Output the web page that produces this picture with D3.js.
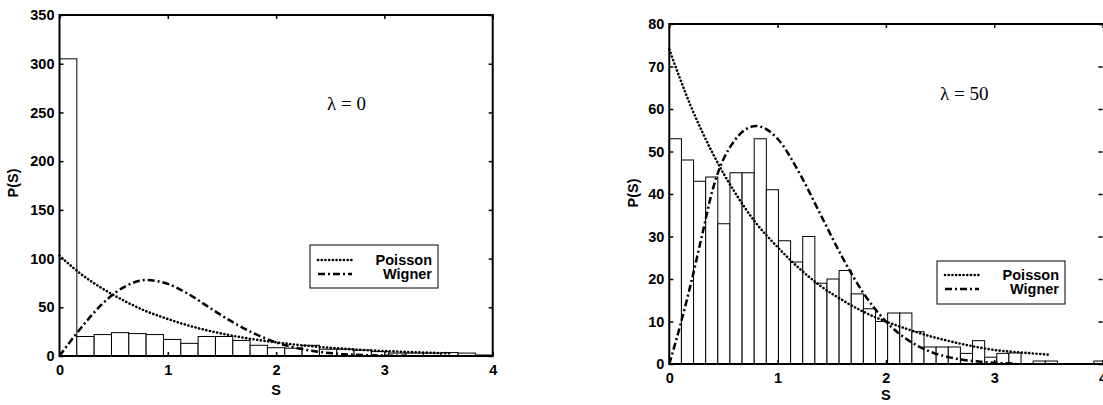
<!DOCTYPE html>
<html><head><meta charset="utf-8">
<script src="https://cdn.jsdelivr.net/npm/d3@7"></script>
<style>body{margin:0;background:#fff} svg{display:block}</style>
</head><body>
<svg id="c" width="1103" height="405"></svg>
<script>
// ---------- data ----------
const xTicks = [0, 1, 2, 3, 4];
const leftYTicks = [0, 50, 100, 150, 200, 250, 300, 350];
const rightYTicks = [0, 10, 20, 30, 40, 50, 60, 70, 80];
const seriesNames = ["Poisson", "Wigner"];
const leftTitle = "λ = 0";
const rightTitle = "λ = 50";

const leftBinWidth = 0.16;
const leftCounts = [305, 20, 22, 24, 23, 22, 17, 13, 20, 20, 16, 11, 8.5, 8, 11, 7, 7, 6, 4.5, 3, 3, 3, 3.5, 3, 1];

const rightBinWidth = 0.112;
const rightCounts = [53, 48, 43, 44, 33, 45, 45, 53, 41, 29, 24, 30, 19, 20, 22, 16.5, 13, 10, 12, 12,
                     7.6, 4, 4, 4, 2.5, 5.5, 1.6, 2.5, 2.6, 0, 0.7, 0.7, 0, 0, 0, 0.7];

const leftPoissonS = [0,0.2,0.4,0.6,0.8,1.0,1.2,1.4,1.6,1.8,2.0,2.2,2.4,2.6,2.8,3.0,3.2,3.4,3.6];
const leftPoissonP = [103,84,69,56.5,46,38,31,25.4,20.8,17,14,11.4,9.3,7.6,6.2,5.1,4.2,3.4,2.8];
const leftWignerS = [0,0.2,0.4,0.6,0.8,1.0,1.2,1.4,1.6,1.8,2.0,2.2,2.4,2.6,2.8,3.0,3.2];
const leftWignerP = [0,29,54,71,78,74,63,48.5,34.7,23,14,8,4.2,2.1,0.9,0.4,0.2];

const rightPoissonS = [0,0.2,0.4,0.6,0.8,1.0,1.2,1.4,1.6,1.8,2.0,2.2,2.4,2.6,2.8,3.0,3.2,3.4,3.5];
const rightPoissonP = [74,60.6,49.6,40.6,33.2,27.5,22.5,18.3,15,12.2,10,8.2,6.6,5.3,4.2,3.3,2.8,2.4,2.2];
const rightWignerS = [0,0.1,0.2,0.3,0.4,0.6,0.8,1.0,1.2,1.4,1.6,1.8,2.0,2.2,2.4,2.6,2.8,3.0,3.2];
const rightWignerP = [0,9,19,30,41,52.5,56,53,45,35,25,16.4,10,5.7,3,1.5,0.7,0.3,0.1];

// ---------- drawing ----------
const svg = d3.select("#c");
const tickFont = "bold 14.5px 'Liberation Sans', Arial, sans-serif";
const DOT = "0.1,3.6";
const DASHDOT = "7,3,2,3";

function drawPanel(p) {
  const g = svg.append("g");
  const x = d3.scaleLinear().domain([0, 4]).range([p.x0, p.x1]);
  const y = d3.scaleLinear().domain([0, p.ymax]).range([p.yb, p.yt]);

  // bars
  const bins = p.counts.map((c, i) => ({lo: i * p.bw, hi: (i + 1) * p.bw, c}));
  g.append("g").selectAll("rect").data(bins.filter(d => d.c > 0)).join("rect")
    .attr("x", d => x(d.lo)).attr("width", d => x(d.hi) - x(d.lo))
    .attr("y", d => y(d.c)).attr("height", d => y(0) - y(d.c))
    .attr("fill", "#fff").attr("stroke", "#000").attr("stroke-width", 1);

  // curves
  const line = d3.line().x(d => x(d[0])).y(d => y(d[1])).curve(d3.curveMonotoneX);
  g.append("path").attr("d", line(d3.zip(p.ps, p.pp)))
    .attr("fill", "none").attr("stroke", "#000").attr("stroke-width", 2.6)
    .attr("stroke-linecap", "round").attr("stroke-dasharray", DOT);
  g.append("path").attr("d", line(d3.zip(p.ws, p.wp)))
    .attr("fill", "none").attr("stroke", "#000").attr("stroke-width", 2.5)
    .attr("stroke-dasharray", DASHDOT);

  // axes (inward ticks)
  const ax = (sel) => { sel.select(".domain").remove(); sel.selectAll("line").attr("stroke", "#000").attr("stroke-width", 1.5);
    sel.selectAll("text").style("font", tickFont).attr("fill", "#000"); };
  g.append("g").attr("transform", `translate(0,${p.yb})`)
    .call(d3.axisBottom(x).tickValues(xTicks).tickSize(-4).tickPadding(9).tickFormat(d3.format("d"))).call(ax);
  g.append("g").attr("transform", `translate(0,${p.yt})`)
    .call(d3.axisTop(x).tickValues(xTicks).tickSize(-4).tickFormat("")).call(ax);
  g.append("g").attr("transform", `translate(${p.x0},0)`)
    .call(d3.axisLeft(y).tickValues(p.yTicks).tickSize(-4).tickPadding(5).tickFormat(d3.format("d"))).call(ax);
  g.append("g").attr("transform", `translate(${p.x1},0)`)
    .call(d3.axisRight(y).tickValues(p.yTicks).tickSize(-4).tickFormat("")).call(ax);

  // frame
  g.append("rect").attr("x", p.x0).attr("y", p.yt)
    .attr("width", p.frameRight - p.x0).attr("height", p.yb - p.yt)
    .attr("fill", "none").attr("stroke", "#000").attr("stroke-width", 2);

  // axis labels
  g.append("text").attr("x", x(2)).attr("y", p.sy).attr("text-anchor", "middle")
    .style("font", tickFont).text("S");
  g.append("text").attr("transform", `translate(${p.px},${p.py}) rotate(-90)`)
    .attr("text-anchor", "middle").attr("dy", "0.35em")
    .style("font", tickFont).text("P(S)");

  // lambda label
  g.append("text").attr("x", p.lx).attr("y", p.ly)
    .style("font", "19px 'Liberation Serif', 'Times New Roman', serif").text(p.title);

  // legend
  const L = p.leg;
  g.append("rect").attr("x", L.x).attr("y", L.y).attr("width", L.w).attr("height", L.h)
    .attr("fill", "#fff").attr("stroke", "#000").attr("stroke-width", 1);
  const styles = [[DOT, 2.6, "round"], [DASHDOT, 2.5, "butt"]];
  seriesNames.forEach((name, i) => {
    const yy = L.y + L.r0 + i * L.dy;
    g.append("line").attr("x1", L.x + 8).attr("x2", L.x + 42).attr("y1", yy).attr("y2", yy)
      .attr("stroke", "#000").attr("stroke-width", styles[i][1])
      .attr("stroke-linecap", styles[i][2]).attr("stroke-dasharray", styles[i][0]);
    g.append("text").attr("x", L.x + L.w - 6).attr("y", yy).attr("dy", "0.36em")
      .attr("text-anchor", "end").style("font", tickFont).text(name);
  });
}

drawPanel({x0: 59.5, x1: 492.7, frameRight: 492.7, yt: 15, yb: 356, ymax: 350, yTicks: leftYTicks,
  counts: leftCounts, bw: leftBinWidth, ps: leftPoissonS, pp: leftPoissonP, ws: leftWignerS, wp: leftWignerP,
  sy: 395, px: 13, py: 183, lx: 327, ly: 110, title: leftTitle,
  leg: {x: 310, y: 245, w: 128, h: 43, r0: 15, dy: 14}});

drawPanel({x0: 669.3, x1: 1102.5, frameRight: 1104.5, yt: 24, yb: 364, ymax: 80, yTicks: rightYTicks,
  counts: rightCounts, bw: rightBinWidth, ps: rightPoissonS, pp: rightPoissonP, ws: rightWignerS, wp: rightWignerP,
  sy: 400, px: 633, py: 193, lx: 940, ly: 100, title: rightTitle,
  leg: {x: 937, y: 261, w: 128, h: 43, r0: 14, dy: 14}});
</script>
</body></html>
